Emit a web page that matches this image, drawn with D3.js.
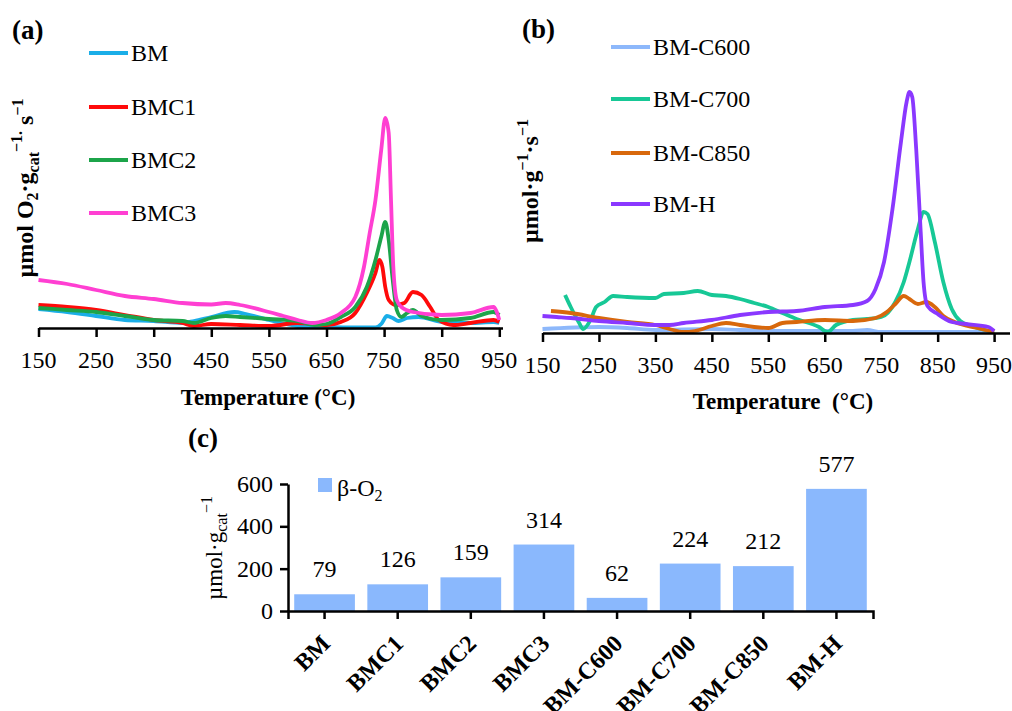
<!DOCTYPE html>
<head>
<meta charset="utf-8">
<script src="https://d3js.org/d3.v7.min.js"></script>
<style>
body{ margin:0; background:#fff; }
text{ font-family: "Liberation Serif", "Times New Roman", serif; fill:#000; }
text.panel{ font-size:27px; font-weight:700; }
text.tick{ font-size:24px; }
text.xTitle{ font-size:23px; font-weight:700; }
text.yTitle{ font-size:24px; font-weight:700; }
text.legend{ font-size:24px; }
text.valueLabel{ font-size:24px; }
text.catLabel{ font-size:24px; font-weight:700; }
.axis path, .axis line{ stroke:#000; stroke-width:2.5; }
.axis text{ display:none; }
path.curve{ fill:none; stroke-width:3.8; stroke-linejoin:round; }
</style>
</head>
<body>
<div id="viz"></div>
<script>
const width = 1012;
const height = 711;

// ---- panel (a) ----
const seriesA = ["BM", "BMC1", "BMC2", "BMC3"];
const coloursA = ["#1aaee8", "#ff0a0a", "#1ca44a", "#ff3fd2"];
const bm = [[150,1.9],[200,1.6],[250,1.2],[300,0.8],[350,0.7],[400,0.5],[420,0.7],[450,1.1],[490,1.6],[510,1.4],[550,0.8],[600,0.2],[650,0.1],[700,0.05],[735,0.05],[745,0.4],[755,1.2],[765,1.0],[775,0.7],[790,1.0],[810,1.1],[850,0.6],[900,0.5],[940,0.6],[950,0.5]];
const bmc1 = [[150,2.3],[200,2.1],[250,1.8],[300,1.3],[350,0.8],[400,0.5],[420,0.2],[450,0.4],[500,0.3],[550,0.2],[600,0.5],[650,0.3],[675,0.6],[700,1.5],[720,3.5],[735,5.5],[742,6.8],[747,6.1],[752,4.1],[758,2.8],[770,2.3],[785,2.5],[800,3.6],[815,3.3],[830,2.1],[845,0.8],[870,0.3],[900,0.5],[940,0.8],[950,0.6]];
const bmc2 = [[150,2.0],[200,1.8],[250,1.6],[300,1.2],[350,0.8],[400,0.7],[420,0.5],[450,1.0],[475,1.2],[500,1.1],[550,0.9],[600,0.7],[630,0.3],[650,0.4],[675,1.1],[700,2.1],[720,4.1],[735,6.8],[745,9.1],[752,10.6],[758,8.8],[765,4.8],[772,1.8],[780,1.1],[790,1.5],[800,1.8],[815,1.2],[850,0.8],[900,1.0],[940,1.6],[950,1.3]];
const bmc3 = [[150,4.8],[200,4.4],[250,3.8],[300,3.2],[350,2.9],[400,2.5],[450,2.35],[475,2.5],[500,2.3],[550,1.6],[575,1.2],[600,0.8],[625,0.5],[650,0.8],[675,1.5],[700,3.1],[715,6.1],[725,9.5],[735,12.8],[745,17.8],[752,21.0],[758,19.5],[762,12.8],[766,6.1],[772,2.8],[780,2.1],[800,1.6],[850,1.3],[900,1.5],[940,2.1],[945,1.7],[950,0.8]];

// ---- panel (b) ----
const seriesB = ["BM-C600", "BM-C700", "BM-C850", "BM-H"];
const coloursB = ["#8db8fb", "#17c896", "#d8680c", "#8a38ff"];
const c600 = [[150,0.4],[250,0.6],[300,0.5],[350,0.3],[450,0.4],[500,0.3],[600,0.2],[700,0.2],[725,0.3],[750,0.1],[850,0.1],[950,0.1]];
const c700 = [[190,3.8],[200,2.6],[215,1.0],[222,0.4],[235,1.3],[245,2.6],[260,3.1],[275,3.7],[300,3.6],[350,3.5],[365,3.9],[400,4.0],[425,4.2],[450,3.8],[475,3.7],[500,3.4],[525,3.0],[550,2.6],[575,2.0],[600,1.4],[640,0.6],[655,0.1],[670,0.8],[700,1.3],[725,1.4],[750,1.6],[775,3.1],[790,5.1],[800,7.1],[815,10.4],[825,12.1],[832,11.9],[845,9.1],[860,5.1],[875,2.4],[890,1.2],[910,0.7],[950,0.1]];
const c850 = [[165,2.2],[200,2.0],[250,1.5],[300,1.1],[350,0.8],[375,0.4],[400,0.1],[420,0.2],[450,0.7],[475,1.0],[500,0.8],[525,0.6],[550,0.5],[575,1.0],[600,1.1],[650,1.3],[700,1.2],[740,1.5],[760,2.1],[775,2.9],[790,3.7],[800,3.4],[815,2.9],[830,3.1],[845,2.6],[860,1.7],[880,1.1],[920,0.5],[950,0.1]];
const bmh = [[150,1.7],[175,1.6],[200,1.5],[250,1.2],[300,1.0],[350,0.8],[375,0.8],[400,1.0],[450,1.3],[500,1.8],[550,2.1],[600,2.2],[650,2.6],[700,2.8],[725,3.2],[740,4.4],[755,7.1],[770,12.4],[785,19.1],[795,23.1],[800,24.1],[805,23.6],[812,18.4],[820,10.1],[825,5.1],[832,2.7],[850,1.9],[875,1.1],[900,0.9],[940,0.6],[950,0.2]];

const tempTicks = [150, 250, 350, 450, 550, 650, 750, 850, 950];

// ---- panel (c) ----
const samples = ["BM", "BMC1", "BMC2", "BMC3", "BM-C600", "BM-C700", "BM-C850", "BM-H"];
const betaO2 = [79, 126, 159, 314, 62, 224, 212, 577];
const betaTicks = [0, 200, 400, 600];

const svg = d3.select("#viz").append("svg")
   .attr("width", width)
   .attr("height", height);

function linePanel(cfg){
   const x = d3.scaleLinear().domain([150, 950]).range(cfg.xRange);
   const y = d3.scaleLinear().domain(cfg.yDomain).range(cfg.yRange);
   const line = d3.line()
      .x(d => x(d[0]))
      .y(d => y(d[1]))
      .curve(d3.curveMonotoneX);

   svg.selectAll(null)
      .data(cfg.data)
      .enter()
      .append("path")
      .attr("class", "curve")
      .attr("d", d => line(d))
      .style("stroke", (d,i) => cfg.colours[i]);

   const axis = svg.append("g")
      .attr("class", "axis")
      .attr("transform", `translate(0,${cfg.yRange[0]})`)
      .call(d3.axisBottom(x).tickValues(tempTicks).tickSize(9).tickSizeOuter(0));
   axis.append("line")
      .attr("x1", cfg.xRange[1]).attr("x2", cfg.axisEnd)
      .attr("y1", 0.5).attr("y2", 0.5);

   svg.selectAll(null)
      .data(tempTicks)
      .enter()
      .append("text")
      .attr("class", "tick")
      .attr("x", d => x(d))
      .attr("y", cfg.yRange[0] + cfg.tickDy)
      .style("text-anchor", "middle")
      .text(d => d);

   svg.append("text")
      .attr("class", "xTitle")
      .attr("x", cfg.titleX)
      .attr("y", cfg.titleY)
      .style("text-anchor", "middle")
      .style("white-space", "pre")
      .text(cfg.title);

   const leg = svg.selectAll(null)
      .data(cfg.names)
      .enter()
      .append("g")
      .attr("transform", (d,i) => `translate(0,${cfg.legendY[i]})`);
   leg.append("line")
      .attr("x1", cfg.legendX).attr("x2", cfg.legendX + 39)
      .attr("y1", 0).attr("y2", 0)
      .style("stroke", (d,i) => cfg.colours[i])
      .style("stroke-width", 4);
   leg.append("text")
      .attr("class", "legend")
      .attr("x", cfg.legendX + 42)
      .attr("y", 8)
      .text(d => d);
}

linePanel({
   data: [bm, bmc1, bmc2, bmc3], names: seriesA, colours: coloursA,
   xRange: [38.5, 499.3], axisEnd: 503, yDomain: [0, 24], yRange: [328, 88],
   tickDy: 40, title: "Temperature (°C)", titleX: 268, titleY: 405,
   legendX: 89, legendY: [53, 107, 160, 213]
});

linePanel({
   data: [c600, c700, c850, bmh], names: seriesB, colours: coloursB,
   xRange: [542.5, 994.1], axisEnd: 1010, yDomain: [0, 26], yRange: [333, 73],
   tickDy: 40, title: "Temperature  (°C)", titleX: 783, titleY: 409,
   legendX: 611, legendY: [47, 99, 153, 204]
});

// panel letters
svg.append("text").attr("class", "panel").attr("x", 12).attr("y", 39).text("(a)");
svg.append("text").attr("class", "panel").attr("x", 522).attr("y", 38).text("(b)");
svg.append("text").attr("class", "panel").attr("x", 188).attr("y", 447).text("(c)");

// y titles
const yTitleA = svg.append("text")
   .attr("class", "yTitle")
   .attr("transform", "translate(33,188) rotate(-90)")
   .style("text-anchor", "middle");
yTitleA.append("tspan").text("µmol O");
yTitleA.append("tspan").attr("dy", 5).style("font-size", "16px").text("2");
yTitleA.append("tspan").attr("dy", -5).text("·g");
yTitleA.append("tspan").attr("dy", 6).style("font-size", "16px").text("cat");
yTitleA.append("tspan").attr("dy", -17).style("font-size", "16px").text("−1.");
yTitleA.append("tspan").attr("dy", 11).text(" s");
yTitleA.append("tspan").attr("dy", -10).style("font-size", "16px").text("−1");

const yTitleB = svg.append("text")
   .attr("class", "yTitle")
   .attr("transform", "translate(538,181) rotate(-90)")
   .style("text-anchor", "middle");
yTitleB.append("tspan").text("µmol·g");
yTitleB.append("tspan").attr("dy", -10).style("font-size", "16px").text("−1");
yTitleB.append("tspan").attr("dy", 10).text("·s");
yTitleB.append("tspan").attr("dy", -10).style("font-size", "16px").text("−1");

// ---- bar chart ----
const xC = d3.scaleBand()
   .domain(samples)
   .range([288, 873])
   .paddingInner(0.17)
   .paddingOuter(0.085);
const yC = d3.scaleLinear().domain([0, 600]).range([611, 484]);

svg.selectAll("rect.bar")
   .data(betaO2)
   .enter()
   .append("rect")
   .attr("class", "bar")
   .attr("x", (d,i) => xC(samples[i]))
   .attr("width", xC.bandwidth())
   .attr("y", d => yC(d))
   .attr("height", d => yC(0) - yC(d))
   .style("fill", "#8ab8fd");

svg.selectAll("text.valueLabel")
   .data(betaO2)
   .enter()
   .append("text")
   .attr("class", "valueLabel")
   .attr("x", (d,i) => xC(samples[i]) + xC.bandwidth()/2)
   .attr("y", d => yC(d) - 17)
   .style("text-anchor", "middle")
   .text(d => d);

svg.append("g")
   .attr("class", "axis")
   .attr("transform", "translate(0,611)")
   .call(d3.axisBottom(xC).tickSize(8).tickSizeOuter(8));

svg.append("g")
   .attr("class", "axis")
   .attr("transform", "translate(288,0)")
   .call(d3.axisLeft(yC).tickValues(betaTicks).tickSize(8).tickSizeOuter(0));

svg.selectAll(null)
   .data(betaTicks)
   .enter()
   .append("text")
   .attr("class", "tick")
   .attr("x", 273)
   .attr("y", d => yC(d) + 8)
   .style("text-anchor", "end")
   .text(d => d);

// rotated sample names (the lowest ones run off the bottom edge, as in the original)
svg.selectAll("text.catLabel")
   .data(samples)
   .enter()
   .append("text")
   .attr("class", "catLabel")
   .attr("transform", d => `translate(${xC(d) + xC.bandwidth()/2 + 7},${645}) rotate(-45)`)
   .style("text-anchor", "end")
   .text(d => d);

const yTitleC = svg.append("text")
   .attr("class", "yTitle")
   .style("font-weight", 400)
   .style("font-size", "23px")
   .attr("transform", "translate(222,548) rotate(-90)")
   .style("text-anchor", "middle");
yTitleC.append("tspan").text("µmol·g");
yTitleC.append("tspan").attr("dy", 5).style("font-size", "16px").text("cat");
yTitleC.append("tspan").attr("dy", -15).style("font-size", "16px").text("−1");

// legend (c)
svg.append("rect")
   .attr("x", 318).attr("y", 478)
   .attr("width", 14).attr("height", 14)
   .style("fill", "#8ab8fd");
const legC = svg.append("text")
   .attr("class", "legend")
   .attr("x", 337)
   .attr("y", 496);
legC.append("tspan").text("β-O");
legC.append("tspan").attr("dy", 5).style("font-size", "16px").text("2");
</script>
</body>
